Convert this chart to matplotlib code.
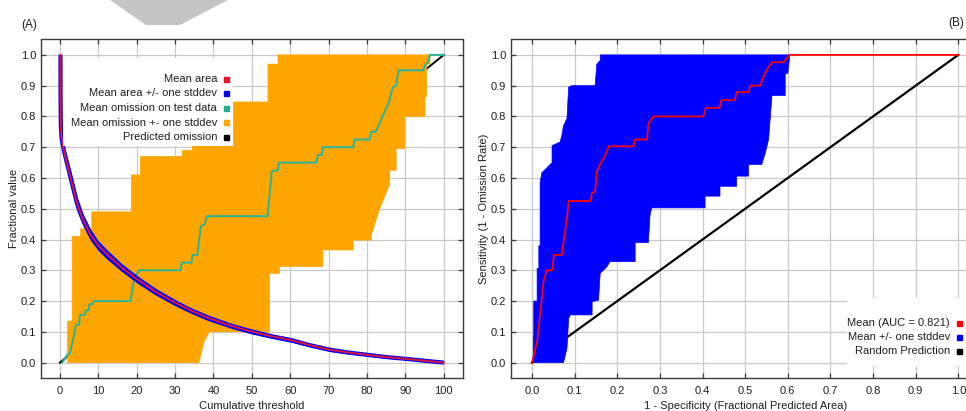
import matplotlib
matplotlib.use("Agg")
import matplotlib.pyplot as plt
from matplotlib.patches import Rectangle, Polygon
from matplotlib.ticker import FormatStrFormatter, MultipleLocator

plt.rcParams['font.family'] = ['Liberation Sans', 'DejaVu Sans']

# ---------------- Panel A data ----------------
area_x = [0.15, 0.18, 0.25, 0.45, 0.8, 1.3, 2.0, 3.0, 4.5, 6.0, 8.0, 10.0, 12.4, 16.0, 20.2, 25.0, 29.7,
          34.0, 38.5, 45.0, 50.3, 55.0, 60.3, 65.0, 70.3, 75.0, 80.3, 85.0, 90.3, 95.0, 100.0]
area_y = [1.0, 0.85, 0.765, 0.728, 0.705, 0.675, 0.64, 0.59, 0.515, 0.465, 0.415, 0.38, 0.35, 0.31, 0.27, 0.23, 0.197,
          0.17, 0.146, 0.118, 0.10, 0.086, 0.073, 0.057, 0.042, 0.033, 0.025, 0.018, 0.012, 0.006, 0.0]
area_sd = [0.0, 0.002, 0.004, 0.008, 0.012, 0.018, 0.024, 0.026, 0.024, 0.02, 0.018, 0.016, 0.015, 0.013, 0.012, 0.011, 0.010,
           0.009, 0.009, 0.008, 0.008, 0.007, 0.007, 0.006, 0.006, 0.005, 0.004, 0.004, 0.003, 0.002, 0.0]

omis_up_x = [2.0, 2.0, 3.2, 3.2, 5.4, 5.4, 8.3, 8.3, 18.6, 18.6, 21.0, 21.0, 31.9, 31.9, 34.5, 34.5,
             45.2, 45.2, 54.2, 54.2, 56.8, 56.8, 96.4]
omis_up_y = [0.0, 0.135, 0.135, 0.41, 0.41, 0.435, 0.435, 0.49, 0.49, 0.61, 0.61, 0.67, 0.67, 0.69, 0.69, 0.705,
             0.705, 0.847, 0.847, 0.97, 0.97, 1.0, 1.0]
omis_lo_x = [36.2, 37.5, 38.9, 54.6, 54.6, 57.2, 57.2, 68.5, 68.5, 76.4, 76.4, 81.1, 81.1, 83.3, 85.9, 85.9,
             87.6, 87.6, 89.8, 89.8, 95.1, 95.1, 95.5, 95.5, 96.4, 96.4]
omis_lo_y = [0.0, 0.066, 0.10, 0.10, 0.29, 0.29, 0.312, 0.312, 0.366, 0.366, 0.398, 0.398, 0.414, 0.50, 0.58, 0.625,
             0.625, 0.696, 0.696, 0.80, 0.80, 0.864, 0.864, 0.97, 0.97, 1.0]

test_x = [0.6, 1.9, 2.6, 3.7, 4.1, 5.0, 5.2, 6.5, 6.7, 7.5, 7.7, 8.6, 8.9, 18.4, 19.3, 20.6, 31.5, 31.7,
          34.3, 34.5, 35.8, 36.7, 37.7, 38.3, 54.1, 55.2, 56.8, 57.1, 66.8, 67.2, 68.2, 68.5, 76.4, 76.8,
          80.7, 81.1, 82.3, 85.9, 86.3, 86.8, 87.6, 88.2, 94.6, 95.1, 95.8, 96.4, 100.0]
test_y = [0.0, 0.025, 0.03, 0.09, 0.122, 0.122, 0.155, 0.155, 0.17, 0.17, 0.19, 0.19, 0.2, 0.2, 0.27, 0.30, 0.30, 0.325,
          0.325, 0.35, 0.35, 0.443, 0.45, 0.476, 0.476, 0.622, 0.625, 0.65, 0.65, 0.675, 0.675, 0.70, 0.70, 0.725,
          0.725, 0.75, 0.75, 0.853, 0.875, 0.896, 0.90, 0.95, 0.95, 0.966, 0.975, 1.0, 1.0]

pred_x = [0.0, 100.0]
pred_y = [0.0, 1.0]

legend_A = ["Mean area", "Mean area +/- one stddev", "Mean omission on test data",
            "Mean omission +- one stddev", "Predicted omission"]
legend_A_colors = ["#e8102a", "#0000ff", "#1fae8e", "#ffa500", "#000000"]

# ---------------- Panel B data ----------------
roc_x = [0.0, 0.012, 0.023, 0.027, 0.034, 0.048, 0.051, 0.070, 0.074, 0.082, 0.086, 0.137, 0.141, 0.148,
         0.152, 0.16, 0.172, 0.18, 0.238, 0.242, 0.27, 0.273, 0.285, 0.402, 0.408, 0.440, 0.444, 0.476,
         0.48, 0.508, 0.512, 0.535, 0.543, 0.551, 0.563, 0.59, 0.605, 1.0]
roc_y = [0.0, 0.068, 0.209, 0.263, 0.30, 0.30, 0.35, 0.35, 0.393, 0.468, 0.525, 0.525, 0.552, 0.555,
         0.622, 0.645, 0.676, 0.703, 0.703, 0.725, 0.725, 0.777, 0.80, 0.80, 0.828, 0.828, 0.853, 0.853,
         0.879, 0.879, 0.90, 0.90, 0.93, 0.952, 0.976, 0.976, 1.0, 1.0]

roc_up_x = [0.003, 0.003, 0.004, 0.004, 0.012, 0.012, 0.016, 0.016, 0.019, 0.019, 0.023, 0.035, 0.047, 0.047,
            0.066, 0.07, 0.074, 0.082, 0.086, 0.094, 0.148, 0.152, 0.16, 0.16]
roc_up_y = [0.0, 0.086, 0.086, 0.2, 0.2, 0.306, 0.306, 0.38, 0.38, 0.585, 0.617, 0.633, 0.65, 0.705,
            0.717, 0.739, 0.77, 0.793, 0.896, 0.90, 0.90, 0.97, 0.982, 1.0]
roc_lo_x = [0.074, 0.082, 0.086, 0.09, 0.141, 0.141, 0.156, 0.16, 0.176, 0.183, 0.242, 0.242, 0.273, 0.277,
            0.281, 0.406, 0.406, 0.441, 0.441, 0.48, 0.48, 0.508, 0.508, 0.539, 0.547, 0.555, 0.563, 0.594,
            0.594, 0.60, 0.605]
roc_lo_y = [0.0, 0.046, 0.144, 0.155, 0.155, 0.198, 0.203, 0.29, 0.312, 0.328, 0.328, 0.39, 0.39, 0.481,
            0.503, 0.503, 0.541, 0.541, 0.573, 0.573, 0.606, 0.606, 0.644, 0.644, 0.68, 0.725, 0.868, 0.868,
            0.94, 0.94, 1.0]

rand_x = [0.0, 1.0]
rand_y = [0.0, 1.0]

legend_B = ["Mean (AUC = 0.821)", "Mean +/- one stddev", "Random Prediction"]
legend_B_colors = ["#ff0000", "#0000ff", "#000000"]

# ---------------- Figure ----------------
W, H = 966, 411
fig = plt.figure(figsize=(W / 100, H / 100), dpi=100)
fig.patch.set_facecolor("white")


def rect(x0, y0, x1, y1):
    return [x0 / W, 1 - y1 / H, (x1 - x0) / W, (y1 - y0) / H]


axA_px = (40.7, 39.5, 463.0, 378.0)
axB_px = (510.7, 39.5, 979.6, 378.0)
axA = fig.add_axes(rect(*axA_px))
axB = fig.add_axes(rect(*axB_px))

TXT = "#1e1e1e"


def style(ax):
    ax.grid(True, color="#c9c9c9", lw=0.9)
    ax.set_axisbelow(True)
    for s in ax.spines.values():
        s.set_color("#3c3c3c")
        s.set_linewidth(1.0)
    ax.tick_params(direction="in", length=3.5, width=0.9, color="#3c3c3c", top=True, right=True,
                   labelsize=8, labelcolor=TXT)
    ax.tick_params(axis="x", pad=6)
    ax.tick_params(axis="y", pad=3.2)
    ax.yaxis.set_major_locator(MultipleLocator(0.1))
    ax.yaxis.set_major_formatter(FormatStrFormatter("%.1f"))
    ax.set_ylim(-0.05, 1.05)


style(axA)
style(axB)

# ---- Panel A ----
axA.set_xlim(-5, 105)
axA.xaxis.set_major_locator(MultipleLocator(10))
axA.plot(pred_x, pred_y, color="black", lw=1.4, zorder=2)
omis_poly = list(zip(omis_up_x, omis_up_y)) + list(zip(omis_lo_x, omis_lo_y))[::-1]
axA.add_patch(Polygon(omis_poly, closed=True, facecolor="#ffa500", edgecolor="#ffa500", lw=0.5, zorder=3))
axA.plot(test_x, test_y, color="#26b59a", lw=1.4, zorder=4)
lo = [y - s for y, s in zip(area_y, area_sd)]
hi = [y + s for y, s in zip(area_y, area_sd)]
axA.fill_between(area_x, lo, hi, color="#0000ff", lw=0, zorder=5)
axA.plot(area_x, area_y, color="#0000ff", lw=3.0, zorder=5, solid_capstyle="butt", solid_joinstyle="round")
axA.plot(area_x, area_y, color="#dc143c", lw=1.4, zorder=6, solid_joinstyle="round")
axA.set_xlabel("Cumulative threshold", fontsize=8, color=TXT, labelpad=3.5)
axA.set_ylabel("Fractional value", fontsize=8, color=TXT, labelpad=1)

# legend A (white box, right-aligned text, square markers)
def px2ax(ax_px, x, y):
    x0, y0, x1, y1 = ax_px
    return (x - x0) / (x1 - x0), (y1 - y) / (y1 - y0)

bx0, by0 = px2ax(axA_px, 63, 146.5)
bx1, by1 = px2ax(axA_px, 232.5, 58)
axA.add_patch(Rectangle((bx0, by0), bx1 - bx0, by1 - by0, transform=axA.transAxes,
                        facecolor="white", edgecolor="none", zorder=10))
for i, (lab, col) in enumerate(zip(legend_A, legend_A_colors)):
    ypx = 79 + 14.5 * i
    tx, ty = px2ax(axA_px, 217, ypx)
    mx, my = px2ax(axA_px, 226, ypx)
    axA.text(tx, ty, lab, transform=axA.transAxes, ha="right", va="center", fontsize=8.0,
             color=TXT, zorder=11)
    axA.plot([mx], [my], marker="s", ms=3.6, color=col, transform=axA.transAxes,
             zorder=11, clip_on=False)

# ---- Panel B ----
axB.set_xlim(-0.05, 1.05)
axB.xaxis.set_major_locator(MultipleLocator(0.1))
axB.xaxis.set_major_formatter(FormatStrFormatter("%.1f"))
axB.plot(rand_x, rand_y, color="black", lw=1.6, zorder=2)
roc_poly = list(zip(roc_up_x, roc_up_y)) + list(zip(roc_lo_x, roc_lo_y))[::-1]
axB.add_patch(Polygon(roc_poly, closed=True, facecolor="#0000ff", edgecolor="#0000ff", lw=0.5, zorder=3))
axB.plot(roc_x, roc_y, color="#ff0000", lw=1.3, zorder=4)
axB.set_xlabel("1 - Specificity (Fractional Predicted Area)", fontsize=8, color=TXT, labelpad=3.5)
axB.set_ylabel("Sensitivity (1 - Omission Rate)", fontsize=8, color=TXT, labelpad=1)

bx0, by0 = px2ax(axB_px, 847, 366)
bx1, by1 = px2ax(axB_px, 990, 298)
axB.add_patch(Rectangle((bx0, by0), bx1 - bx0, by1 - by0, transform=axB.transAxes,
                        facecolor="white", edgecolor="none", zorder=10, clip_on=False))
for i, (lab, col) in enumerate(zip(legend_B, legend_B_colors)):
    ypx = 322.5 + 14.3 * i
    tx, ty = px2ax(axB_px, 950, ypx)
    mx, my = px2ax(axB_px, 958.5, ypx)
    axB.text(tx, ty, lab, transform=axB.transAxes, ha="right", va="center", fontsize=8.0,
             color=TXT, zorder=11)
    axB.plot([mx], [my], marker="s", ms=3.6, color=col, transform=axB.transAxes,
             zorder=11, clip_on=False)

# panel letters
fig.text(21 / W, 1 - 25 / H, "(A)", fontsize=8.5, color=TXT, ha="left", va="center")
fig.text(964 / W, 1 - 23 / H, "(B)", fontsize=8.5, color=TXT, ha="right", va="center")

# faint grey watermark wedge at the top
wm = [(110, 0), (228, 0), (180, 25), (146, 25)]
fig.add_artist(Polygon([(x / W, 1 - y / H) for x, y in wm], closed=True, transform=fig.transFigure,
                       facecolor="#c4c4c4", edgecolor="none", zorder=20))

fig.savefig("out.png", dpi=100, facecolor="white")
